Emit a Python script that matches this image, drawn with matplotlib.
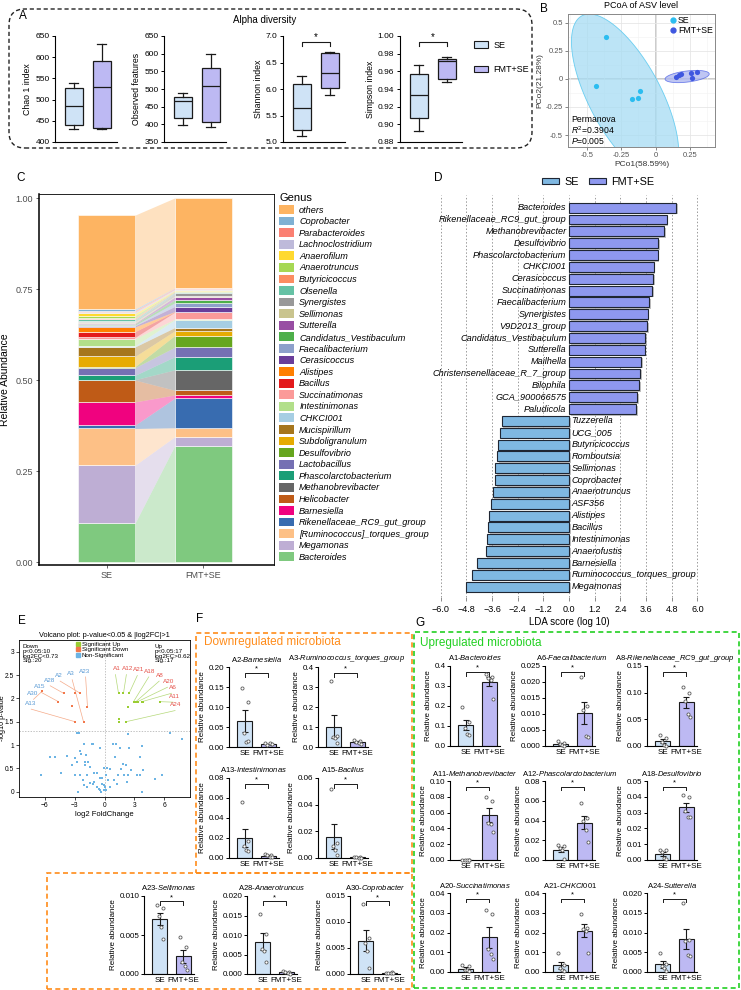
import numpy as np
import matplotlib
matplotlib.use("Agg")
import matplotlib.pyplot as plt
import matplotlib.patheffects as pe
from matplotlib.patches import FancyBboxPatch, Patch
from matplotlib.lines import Line2D

plt.rcParams['font.family'] = ['Liberation Sans', 'DejaVu Sans']
plt.rcParams['mathtext.fontset'] = 'custom'
plt.rcParams['mathtext.rm'] = 'Liberation Sans'
plt.rcParams['mathtext.it'] = 'Liberation Sans:italic'
plt.rcParams['mathtext.bf'] = 'Liberation Sans:bold'
plt.rcParams['axes.linewidth'] = 0.8

# ---------------- data ----------------
# A: alpha diversity box stats  [whislo, q1, median, q3, whishi]
alpha_labels = ["Chao 1 index", "Observed features", "Shannon index", "Simpson index"]
alpha_se = [[430, 440, 486, 527, 540], [398, 418, 466, 478, 490],
            [5.12, 5.22, 5.65, 6.10, 6.25], [0.892, 0.907, 0.933, 0.957, 0.967]]
alpha_fmt = [[430, 433, 530, 590, 631], [392, 408, 509, 560, 600],
             [5.88, 6.02, 6.30, 6.68, 6.70], [0.948, 0.951, 0.972, 0.974, 0.976]]
alpha_ylim = [(400, 650), (350, 650), (5.0, 7.0), (0.88, 1.00)]
alpha_step = [50, 50, 0.5, 0.02]
alpha_fmtstr = ["{:.0f}", "{:.0f}", "{:.1f}", "{:.2f}"]
alpha_sig = [False, False, True, True]

# B: PCoA
pcoa_se_x = [-0.357, -0.435, -0.170, -0.125, -0.114]
pcoa_se_y = [0.372, -0.060, -0.176, -0.167, -0.107]
pcoa_fmt_x = [0.146, 0.170, 0.182, 0.257, 0.262, 0.298]
pcoa_fmt_y = [0.018, 0.033, 0.045, 0.051, 0.012, 0.060]

# C: genus composition (legend order, top to bottom)
genus = ["others", "Coprobacter", "Parabacteroides", "Lachnoclostridium", "Anaerofilum",
         "Anaerotruncus", "Butyricicoccus", "Olsenella", "Synergistes", "Sellimonas",
         "Sutterella", "Candidatus_Vestibaculum", "Faecalibacterium", "Cerasicoccus",
         "Alistipes", "Bacillus", "Succinatimonas", "Intestinimonas", "CHKCI001",
         "Mucispirillum", "Subdoligranulum", "Desulfovibrio", "Lactobacillus",
         "Phascolarctobacterium", "Methanobrevibacter", "Helicobacter", "Barnesiella",
         "Rikenellaceae_RC9_gut_group", "[Ruminococcus]_torques_group", "Megamonas",
         "Bacteroides"]
genus_se = [0.258, 0.004, 0.004, 0.004, 0.006, 0.006, 0.004, 0.004, 0.003, 0.004,
            0.002, 0.003, 0.002, 0.003, 0.013, 0.016, 0.003, 0.020, 0.003, 0.026,
            0.028, 0.003, 0.021, 0.012, 0.001, 0.060, 0.064, 0.009, 0.101, 0.159, 0.107]
genus_fmt = [0.247, 0.001, 0.003, 0.003, 0.002, 0.001, 0.002, 0.003, 0.008, 0.002,
             0.008, 0.008, 0.010, 0.014, 0.001, 0.001, 0.019, 0.002, 0.021, 0.009,
             0.013, 0.032, 0.026, 0.036, 0.056, 0.013, 0.009, 0.081, 0.025, 0.025, 0.319]
genus_colors = ["#FDB462", "#80B1D3", "#FB8072", "#BEBADA", "#FFD92F", "#A6D854", "#FC8D62",
                "#66C2A5", "#999999", "#C9C48E", "#984EA3", "#4DAF4A", "#8DA0CB", "#6A3D9A",
                "#FF7F00", "#E31A1C", "#FB9A99", "#B2DF8A", "#A6CEE3", "#A6761D", "#E6AB02",
                "#66A61E", "#7570B3", "#1B9E77", "#666666", "#BF5B17", "#F0027F", "#386CB0",
                "#FDC086", "#BEAED4", "#7FC97F"]

# D: LEfSe LDA scores (positive = FMT+SE, negative = SE)
lda_names = ["Bacteroides", "Rikenellaceae_RC9_gut_group", "Methanobrevibacter", "Desulfovibrio",
             "Phascolarctobacterium", "CHKCI001", "Cerasicoccus", "Succinatimonas",
             "Faecalibacterium", "Synergistes", "V9D2013_group", "Candidatus_Vestibaculum",
             "Sutterella", "Mailhella", "Christensenellaceae_R_7_group", "Bilophila",
             "GCA_900066575", "Paludicola", "Tuzzerella", "UCG_005", "Butyricicoccus",
             "Romboutsia", "Sellimonas", "Coprobacter", "Anaerotruncus", "ASF356", "Alistipes",
             "Bacillus", "Intestinimonas", "Anaerofustis", "Barnesiella",
             "Ruminococcus_torques_group", "Megamonas"]
lda_scores = [5.00, 4.56, 4.45, 4.18, 4.14, 3.95, 3.92, 3.90, 3.76, 3.67, 3.65, 3.56, 3.53,
              3.36, 3.34, 3.29, 3.19, 3.15, -3.15, -3.22, -3.34, -3.35, -3.45, -3.46, -3.56,
              -3.65, -3.72, -3.78, -3.81, -3.90, -4.32, -4.53, -4.82]

# E: volcano plot
up_x = [1.41, 1.91, 2.48, 2.35, 1.41, 1.41, 2.15, 2.92, 3.16, 3.32, 3.76, 3.92, 5.60]
up_y = [2.11, 2.11, 2.11, 1.82, 1.57, 1.50, 1.50, 1.93, 1.93, 1.93, 1.93, 1.93, 1.93]
down_x = [-6.24, -4.63, -4.12, -3.28, -2.95, -2.44, -1.71, -2.95, -2.11]
down_y = [2.16, 1.93, 2.11, 1.84, 2.11, 2.11, 1.81, 1.50, 1.50]
ns_x = [-2.78, -2.55, 2.35, 6.60, 7.80, -2.11, -1.27, -1.20, 0.84, 1.14, -0.44, -2.44, 3.76,
        2.48, 1.58, 3.59, 1.08, -5.53, -4.96, -3.79, -1.84, -2.95, -2.34, -3.28, -2.78, -1.94,
        -1.61, -2.00, -1.44, -0.03, 0.24, 0.57, 1.65, 1.85, 2.18, 2.65, 3.92, 3.59, 3.25, 2.41,
        1.98, 1.31, 0.17, -0.77, -1.10, -1.71, -2.44, -2.95, -4.36, -6.37, 5.77, 5.10, -0.44,
        -0.27, 0.40, 0.91, -2.14, -1.10, -1.44, -1.17, -0.27, -0.10, -0.77, -0.60, -0.44, -0.10,
        0.17, -0.37, -2.71, 3.76, -1.78, -2.11, 0.57, 0.07, 1.24, 2.25]
ns_y = [1.25, 1.25, 1.23, 1.25, 1.14, 1.02, 1.02, 1.02, 1.02, 1.02, 0.93, 0.88, 0.99, 0.93,
        0.93, 0.75, 0.75, 0.75, 0.75, 0.77, 0.78, 0.72, 0.82, 0.57, 0.64, 0.64, 0.64, 0.57, 0.54,
        0.52, 0.52, 0.48, 0.48, 0.59, 0.57, 0.46, 0.46, 0.37, 0.37, 0.37, 0.37, 0.37, 0.37, 0.40,
        0.40, 0.37, 0.37, 0.36, 0.40, 0.37, 0.37, 0.27, 0.30, 0.30, 0.25, 0.25, 0.25, 0.21, 0.18,
        0.16, 0.16, 0.15, 0.11, 0.07, 0.04, 0.04, 0.05, 0.00, 0.00, 0.00, 0.11, 0.15, 0.10, 0.11,
        0.16, 0.21]
up_labels = ["A1", "A12", "A21", "A18", "A8", "A20", "A6", "A11", "A24"]
up_label_x = [1.20, 2.30, 3.40, 4.55, 5.60, 6.44, 6.84, 7.00, 7.20]
up_label_y = [2.58, 2.58, 2.56, 2.53, 2.44, 2.31, 2.18, 1.99, 1.81]
up_target = [0, 1, 2, 7, 8, 9, 10, 12, 6]
down_labels = ["A23", "A3", "A2", "A28", "A15", "A30", "A13"]
down_label_x = [-2.00, -3.35, -4.56, -5.56, -6.47, -7.24, -7.47]
down_label_y = [2.53, 2.47, 2.44, 2.34, 2.20, 2.05, 1.84]
down_target = [6, 8, 5, 2, 1, 0, 7]

# F/G: relative abundance of selected ASVs (5 mice per group)
bar_tags = ["A2", "A3", "A13", "A15", "A23", "A28", "A30",
            "A1", "A6", "A8", "A11", "A12", "A18", "A20", "A21", "A24"]
bar_genus = ["Barnesiella", "Ruminococcus_torques_group", "Intestinimonas", "Bacillus",
             "Sellimonas", "Anaerotruncus", "Coprobacter", "Bacteroides", "Faecalibacterium",
             "Rikenellaceae_RC9_gut_group", "Methanobrevibacter", "Phascolarctobacterium",
             "Desulfovibrio", "Succinatimonas", "CHKCI001", "Sutterella"]
bar_ymax = [0.20, 0.4, 0.08, 0.06, 0.010, 0.020, 0.015,
            0.4, 0.025, 0.15, 0.10, 0.08, 0.05, 0.04, 0.04, 0.020]
bar_step = [0.05, 0.1, 0.02, 0.02, 0.005, 0.005, 0.005,
            0.1, 0.005, 0.05, 0.02, 0.02, 0.01, 0.01, 0.01, 0.005]
bar_dec = [2, 1, 2, 2, 3, 3, 3, 1, 3, 2, 2, 2, 2, 2, 2, 3]
se_points = [[0.147, 0.113, 0.035, 0.013, 0.015],
             [0.330, 0.055, 0.050, 0.047, 0.020],
             [0.056, 0.017, 0.012, 0.008, 0.007],
             [0.052, 0.011, 0.009, 0.006, 0.002],
             [0.0088, 0.0085, 0.0075, 0.0060, 0.0045],
             [0.0155, 0.0103, 0.0065, 0.0060, 0.0032],
             [0.0135, 0.0070, 0.0060, 0.0045, 0.0012],
             [0.196, 0.120, 0.090, 0.060, 0.055],
             [0.0015, 0.0010, 0.0005, 0.0002, 0.0001],
             [0.020, 0.015, 0.008, 0.002, 0.000],
             [0.0005, 0.0003, 0.0002, 0.0001, 0.0000],
             [0.015, 0.014, 0.012, 0.010, 0.001],
             [0.0065, 0.0063, 0.0050, 0.0010, 0.0005],
             [0.0035, 0.0030, 0.0010, 0.0008, 0.0003],
             [0.0095, 0.0035, 0.0020, 0.0010, 0.0005],
             [0.0048, 0.0020, 0.0015, 0.0010, 0.0002]]
fmt_points = [[0.010, 0.008, 0.006, 0.009, 0.007],
              [0.035, 0.030, 0.025, 0.020, 0.015],
              [0.004, 0.003, 0.003, 0.001, 0.001],
              [0.0010, 0.0008, 0.0005, 0.0003, 0.0001],
              [0.0048, 0.0035, 0.0015, 0.0010, 0.0005],
              [0.0008, 0.0006, 0.0004, 0.0003, 0.0001],
              [0.0002, 0.0003, 0.0001, 0.0002, 0.0001],
              [0.360, 0.345, 0.340, 0.330, 0.233],
              [0.0217, 0.0125, 0.0112, 0.0030, 0.0028],
              [0.110, 0.100, 0.085, 0.060, 0.055],
              [0.080, 0.075, 0.047, 0.045, 0.036],
              [0.058, 0.043, 0.039, 0.030, 0.0185],
              [0.041, 0.040, 0.031, 0.0275, 0.0275],
              [0.0316, 0.0296, 0.0115, 0.0090, 0.0065],
              [0.0296, 0.0225, 0.0220, 0.0210, 0.0095],
              [0.0174, 0.0082, 0.0078, 0.0043, 0.0040]]

# ---------------- layout helpers ----------------
W, H = 741, 990
fig = plt.figure(figsize=(W / 100, H / 100), dpi=100)


def px_axes(l, t, r, b):
    return fig.add_axes([l / W, 1 - b / H, (r - l) / W, (b - t) / H])


def px_text(x, y, s, **kw):
    fig.text(x / W, 1 - y / H, s, **kw)


def dashed_box(l, t, r, b, color, rounding=0, lw=1.0):
    style = "round,pad=0,rounding_size=%.3f" % (rounding / 100) if rounding else "square,pad=0"
    box = FancyBboxPatch((l / 100, (H - b) / 100), (r - l) / 100, (b - t) / 100,
                         boxstyle=style, transform=fig.dpi_scale_trans, fill=False,
                         ec=color, lw=lw, ls=(0, (3, 2)))
    fig.add_artist(box)


def panel_label(x, y, s):
    px_text(x, y, s, fontsize=8.5, ha='center', va='center')


C_SE_BOX = "#cfe3f6"
C_FMT_BOX = "#bdb9f3"
ORANGE = "#ff8c1a"
GREEN = "#22d022"

# ---------------- A: alpha diversity ----------------
dashed_box(9, 9, 532, 148, "#222222", rounding=16, lw=1.0)
panel_label(23, 16, "A")
px_text(265, 20, "Alpha diversity", fontsize=7, ha='center', va='center')

alpha_x0 = [55, 164, 283, 400]
for k in range(4):
    x0 = alpha_x0[k]
    ax = px_axes(x0, 36, x0 + 62, 142)
    stats = []
    for vals in (alpha_se[k], alpha_fmt[k]):
        stats.append(dict(whislo=vals[0], q1=vals[1], med=vals[2], q3=vals[3],
                          whishi=vals[4], fliers=[]))
    bp = ax.bxp(stats, positions=[1, 2], widths=0.66, patch_artist=True, showfliers=False,
                boxprops=dict(lw=0.9, ec='#1a1a1a'),
                medianprops=dict(color='#1a1a1a', lw=0.9),
                whiskerprops=dict(color='#1a1a1a', lw=0.9),
                capprops=dict(color='#1a1a1a', lw=0.9), capwidths=0.33)
    for patch, col in zip(bp['boxes'], [C_SE_BOX, C_FMT_BOX]):
        patch.set_facecolor(col)
    lo, hi = alpha_ylim[k]
    ax.set_ylim(lo, hi)
    ax.set_xlim(0.32, 2.55)
    ticks = np.arange(lo, hi + alpha_step[k] / 2, alpha_step[k])
    ax.set_yticks(ticks)
    ax.set_yticklabels([alpha_fmtstr[k].format(t) for t in ticks])
    ax.set_xticks([])
    ax.tick_params(axis='y', labelsize=6, length=2.5, width=0.7, pad=1.5)
    for s in ('top', 'right'):
        ax.spines[s].set_visible(False)
    ax.set_ylabel(alpha_labels[k], fontsize=6.3, labelpad=2)
    if alpha_sig[k]:
        span = hi - lo
        yb = hi - 0.06 * span
        ax.plot([1, 1, 2, 2], [yb - 0.035 * span, yb, yb, yb - 0.035 * span],
                color='#1a1a1a', lw=0.8, clip_on=False)
        ax.text(1.5, yb + 0.005 * span, "*", ha='center', va='bottom', fontsize=7)

fig.legend(handles=[Patch(fc=C_SE_BOX, ec='#1a1a1a', lw=0.8),
                    Patch(fc=C_FMT_BOX, ec='#1a1a1a', lw=0.8)],
           labels=["SE", "FMT+SE"], loc='upper left',
           bbox_to_anchor=(470 / W, 1 - 37 / H), fontsize=6.5, frameon=False,
           handlelength=1.6, handleheight=0.7, labelspacing=1.7, borderaxespad=0,
           handletextpad=0.6)

# ---------------- B: PCoA ----------------
panel_label(544, 9, "B")
ax = px_axes(568, 14, 715, 147)
ax.set_xlim(-0.636, 0.43)
ax.set_ylim(-0.607, 0.58)
ax.set_xticks([-0.5, -0.25, 0, 0.25])
ax.set_xticklabels(["-0.5", "-0.25", "0", "0.25"])
ax.set_yticks([-0.5, -0.25, 0, 0.25, 0.5])
ax.set_yticklabels(["-0.5", "-0.25", "0", "0.25", "0.5"])
ax.set_xticks([-0.625, -0.375, -0.125, 0.125, 0.375], minor=True)
ax.set_yticks([-0.375, -0.125, 0.125, 0.375], minor=True)
ax.grid(True, which='major', color='#e6e6e6', lw=0.6)
ax.grid(True, which='minor', color='#f2f2f2', lw=0.4)
ax.set_axisbelow(True)
ax.tick_params(which='both', labelsize=5.5, length=2, width=0.5, pad=1.5, colors='#555555')
ax.tick_params(which='minor', length=0)
for s in ax.spines.values():
    s.set_color('#888888')
    s.set_linewidth(0.7)
ax.axhline(0, color='#c2c2c2', lw=1.2, zorder=0.5)
ax.axvline(0, color='#c2c2c2', lw=1.2, zorder=0.5)

t = np.linspace(0, 2 * np.pi, 200)
se_ell = dict(c=(-0.222, -0.161), u=(0.313, -0.725), v=(0.231, 0.151))
fmt_ell = dict(c=(0.228, 0.022), u=(0.160, 0.024), v=(-0.005, 0.049))
for ell, fc, ec in ((se_ell, "#a6dcf3", "#45c2ee"), (fmt_ell, "#aab4f0", "#4a5fe6")):
    ex = ell['c'][0] + ell['u'][0] * np.cos(t) + ell['v'][0] * np.sin(t)
    ey = ell['c'][1] + ell['u'][1] * np.cos(t) + ell['v'][1] * np.sin(t)
    ax.fill(ex, ey, fc=fc, ec=ec, lw=0.6, alpha=0.75, zorder=1)
ax.scatter(pcoa_se_x, pcoa_se_y, s=14, color="#2bbdf0", zorder=3, lw=0)
ax.scatter(pcoa_fmt_x, pcoa_fmt_y, s=14, color="#3f57e0", zorder=3, lw=0)
ax.legend(handles=[Line2D([], [], marker='o', ls='', color="#2bbdf0", markersize=3.5),
                   Line2D([], [], marker='o', ls='', color="#3f57e0", markersize=3.5)],
          labels=["SE", "FMT+SE"], loc='upper right', fontsize=6.3, frameon=False,
          handlelength=0.6, handletextpad=0.3, labelspacing=0.05, borderaxespad=0.1,
          borderpad=0.15)
ax.text(0.02, 0.005, "Permanova\n$R^2$=0.3904\n$\\mathit{P}$=0.005", transform=ax.transAxes,
        fontsize=6.2, ha='left', va='bottom', linespacing=1.05)
ax.set_title("PCoA of ASV level", fontsize=6.5, pad=4)
ax.set_xlabel("PCo1(58.59%)", fontsize=6, labelpad=1.5, color='#333333')
ax.set_ylabel("PCo2(21.28%)", fontsize=6, labelpad=1.5, color='#333333')

# ---------------- C: composition ----------------
panel_label(21, 178, "C")
ax = px_axes(39, 194, 274, 565)
bw = 0.59
se_stack = genus_se[::-1]
fmt_stack = genus_fmt[::-1]
col_stack = genus_colors[::-1]
cum_se = np.concatenate([[0], np.cumsum(se_stack)])
cum_fmt = np.concatenate([[0], np.cumsum(fmt_stack)])
for i in range(len(se_stack)):
    ax.bar(1, se_stack[i], bottom=cum_se[i], width=bw, color=col_stack[i], ec='white', lw=0.4)
    ax.bar(2, fmt_stack[i], bottom=cum_fmt[i], width=bw, color=col_stack[i], ec='white', lw=0.4)
    ax.fill_between([1 + bw / 2, 2 - bw / 2], [cum_se[i], cum_fmt[i]],
                    [cum_se[i + 1], cum_fmt[i + 1]], color=col_stack[i], alpha=0.4, lw=0)
ax.set_xlim(0.30, 2.735)
ax.set_ylim(-0.008, 1.011)
ax.set_xticks([1, 2])
ax.set_xticklabels(["SE", "FMT+SE"])
ax.set_yticks([0, 0.25, 0.5, 0.75, 1.0])
ax.set_yticklabels(["0.00", "0.25", "0.50", "0.75", "1.00"])
ax.tick_params(labelsize=6.5, length=2.5, width=0.6, colors='#4d4d4d', pad=2)
ax.set_ylabel("Relative Abundance", fontsize=7.5, labelpad=4)
for s in ('left', 'bottom'):
    ax.spines[s].set_linewidth(1.1)
for s in ('top', 'right'):
    ax.spines[s].set_linewidth(0.6)
fig.legend(handles=[Patch(fc=c, ec='none') for c in genus_colors], labels=genus,
           loc='upper left', bbox_to_anchor=(279 / W, 1 - 193 / H), frameon=False,
           prop={'style': 'italic', 'size': 6.6}, title="Genus", title_fontsize=8,
           alignment='left', handlelength=1.65, handleheight=1.1, labelspacing=0.225,
           handletextpad=0.55, borderaxespad=0, borderpad=0)

# ---------------- D: LDA ----------------
panel_label(438, 178, "D")
ax = px_axes(436.3, 195, 701.7, 597)
C_SE_LDA = "#7fb8e2"
C_FMT_LDA = "#8e98ef"
shadow = [pe.SimplePatchShadow(offset=(1.2, -1.2), shadow_rgbFace='#9a9a9a', alpha=0.6),
          pe.Normal()]
for i, (name, sc) in enumerate(zip(lda_names, lda_scores)):
    col = C_FMT_LDA if sc > 0 else C_SE_LDA
    ax.barh(i, sc, height=0.84, color=col, ec='#1f2633', lw=0.8, path_effects=shadow, zorder=2)
    if sc > 0:
        ax.text(-0.12, i, name, ha='right', va='center', fontsize=6.6, style='italic', zorder=3)
    else:
        ax.text(0.12, i, name, ha='left', va='center', fontsize=6.6, style='italic', zorder=3)
lda_ticks = np.round(np.arange(-6.0, 6.01, 1.2), 1) + 0.0
ax.set_xticks(lda_ticks)
ax.set_xticklabels([("%.1f" % v).replace('-', '\u2212') for v in lda_ticks])
ax.set_xlim(-6.2, 6.2)
ax.set_ylim(32.87, -1.07)
ax.set_yticks([])
ax.grid(axis='x', ls=(0, (1.5, 2)), color='#9a9a9a', lw=0.7)
ax.set_axisbelow(True)
for s in ax.spines.values():
    s.set_visible(False)
ax.tick_params(axis='x', labelsize=6.5, length=3, width=0.6, color='#777777', pad=3)
ax.set_xlabel("LDA score (log 10)", fontsize=7, labelpad=2)
fig.legend(handles=[Patch(fc=C_SE_LDA, ec='#1f2633', lw=0.8),
                    Patch(fc=C_FMT_LDA, ec='#1f2633', lw=0.8)],
           labels=["SE", "FMT+SE"], loc='center', bbox_to_anchor=(598 / W, 1 - 182 / H),
           ncol=2, fontsize=7.8, frameon=False, handlelength=1.6, handleheight=0.55,
           columnspacing=0.9, handletextpad=0.5, borderaxespad=0)

# ---------------- E: volcano ----------------
panel_label(22, 621, "E")
ax = px_axes(19, 640, 190, 797)
ax.set_xlim(-8.6, 8.6)
ax.set_ylim(-0.11, 3.25)
ax.axhline(1.3, color='#aaaaaa', lw=0.5, ls=(0, (2, 2)))
ax.axvline(0, color='#aaaaaa', lw=0.5, ls=(0, (2, 2)))
ax.scatter(ns_x, ns_y, marker='s', s=3, color='#6cb4e4', lw=0, zorder=2)
ax.scatter(up_x, up_y, marker='s', s=3.5, color='#9acd32', lw=0, zorder=3)
ax.scatter(down_x, down_y, marker='s', s=3.5, color='#f2784b', lw=0, zorder=3)
for lab, lx, ly, ti in zip(up_labels, up_label_x, up_label_y, up_target):
    ax.plot([lx - 0.1, up_x[ti]], [ly - 0.07, up_y[ti]], color='#b5d97a', lw=0.5, zorder=1)
    ax.text(lx, ly, lab, fontsize=4.6, color='#e5534b', ha='center', va='bottom')
for lab, lx, ly, ti in zip(down_labels, down_label_x, down_label_y, down_target):
    ax.plot([lx + 0.1, down_x[ti]], [ly - 0.07, down_y[ti]], color='#f5ab8a', lw=0.5, zorder=1)
    ax.text(lx, ly, lab, fontsize=4.6, color='#5b9bd5', ha='center', va='bottom')
ax.set_xticks([-6, -3, 0, 3, 6])
ax.set_yticks([0, 0.5, 1, 1.5, 2, 2.5, 3])
ax.set_yticklabels(["0", "0.5", "1", "1.5", "2", "2.5", "3"])
ax.tick_params(labelsize=4.8, length=2, width=0.5, pad=1.5)
for s in ax.spines.values():
    s.set_linewidth(0.6)
ax.set_xlabel("log2 FoldChange", fontsize=5.5, labelpad=1.5)
ax.set_ylabel("-log10 p-value", fontsize=5.2)
ax.yaxis.set_label_coords(-0.078, 0.5)
ax.set_title("Volcano plot: p-value<0.05 & |log2FC|>1", fontsize=5.3, pad=2.5)
ax.text(0.02, 0.975, "Down\np<0.05:10\nlog2FC<0.73\nSig.:20", transform=ax.transAxes,
        fontsize=4.5, va='top', ha='left', linespacing=0.95)
ax.text(0.795, 0.975, "Up\np<0.05:17\nlog2FC>0.62\nSig.:17", transform=ax.transAxes,
        fontsize=4.5, va='top', ha='left', linespacing=0.95)
ax.legend(handles=[Line2D([], [], marker='s', ls='', color=c, markersize=2.2)
                   for c in ('#9acd32', '#f2784b', '#6cb4e4')],
          labels=["Significant Up", "Significant Down", "Non-Significant"],
          loc='upper left', bbox_to_anchor=(0.33, 0.995), fontsize=4.5, frameon=False,
          handlelength=0.6, handletextpad=0.3, labelspacing=0.05, borderaxespad=0, borderpad=0.1)

# ---------------- F / G: bar charts ----------------
panel_label(200, 619, "F")
panel_label(420, 623, "G")
dashed_box(196, 633, 412, 873, ORANGE, lw=1.2)
dashed_box(47, 873, 412, 989, ORANGE, lw=1.2)
dashed_box(414, 632, 739, 988, GREEN, lw=1.2)
px_text(204, 642, "Downregulated microbiota", fontsize=8.5, color=ORANGE, va='center')
px_text(420, 643, "Upregulated microbiota", fontsize=8.5, color=GREEN, va='center')

bar_boxes = [(229, 667, 747), (318, 667, 747), (229, 778, 858), (318, 778, 858),
             (144, 896, 974), (247, 896, 974), (350, 896, 974),
             (450, 666, 746), (545, 666, 746), (647, 666, 746),
             (450, 781, 860), (545, 781, 860), (647, 781, 860),
             (450, 893, 972), (545, 893, 972), (647, 893, 972)]
title_dx = [3, 4, 0, 0, 0, 0, 0, 0, 2, 3, 0, 0, 0, 0, 0, 0]
dot_dx = [-0.14, 0.12, -0.04, 0.06, 0.15]

for k in range(len(bar_tags)):
    l, t_, b_ = bar_boxes[k]
    ax = px_axes(l, t_, l + 50, b_)
    top = bar_ymax[k]
    groups = [np.array(se_points[k]), np.array(fmt_points[k])]
    means = [g.mean() for g in groups]
    sems = [g.std(ddof=1) / np.sqrt(len(g)) for g in groups]
    ax.bar([0, 1], means, width=0.64, color=[C_SE_BOX, C_FMT_BOX], ec='#1a1a1a', lw=0.8, zorder=1)
    ax.errorbar([0, 1], means, yerr=sems, fmt='none', ecolor='#1a1a1a', elinewidth=0.8,
                capsize=2.3, capthick=0.8, zorder=2)
    for gx, g in enumerate(groups):
        ax.scatter(gx + np.array(dot_dx[:len(g)]), g, s=5, facecolors='white',
                   edgecolors='#5a5a5a', lw=0.6, zorder=3, clip_on=False)
    ax.set_xlim(-0.67, 1.45)
    ax.set_ylim(0, top)
    ticks = np.arange(0, top + bar_step[k] / 2, bar_step[k])
    ax.set_yticks(ticks)
    ax.set_yticklabels([("%." + str(bar_dec[k]) + "f") % v for v in ticks])
    ax.set_xticks([0, 1])
    ax.set_xticklabels(["SE", "FMT+SE"])
    ax.tick_params(axis='y', labelsize=5.8, length=2.2, width=0.7, pad=1)
    ax.tick_params(axis='x', labelsize=5.8, length=0, pad=2)
    for s in ('top', 'right'):
        ax.spines[s].set_visible(False)
    ax.set_ylabel("Relative abundance", fontsize=5.8, labelpad=2)
    yb = 0.93 * top
    ax.plot([0, 0, 1, 1], [0.88 * top, yb, yb, 0.88 * top], color='#1a1a1a', lw=0.7,
            clip_on=False)
    ax.text(0.5, yb, "*", ha='center', va='bottom', fontsize=5.5)
    name = bar_genus[k].replace('_', r'\_')
    px_text(l + 25 + title_dx[k], t_ - 8, bar_tags[k] + "-$\\mathit{" + name + "}$",
            fontsize=5.5, ha='center', va='center')

fig.savefig("out.png", dpi=100)
